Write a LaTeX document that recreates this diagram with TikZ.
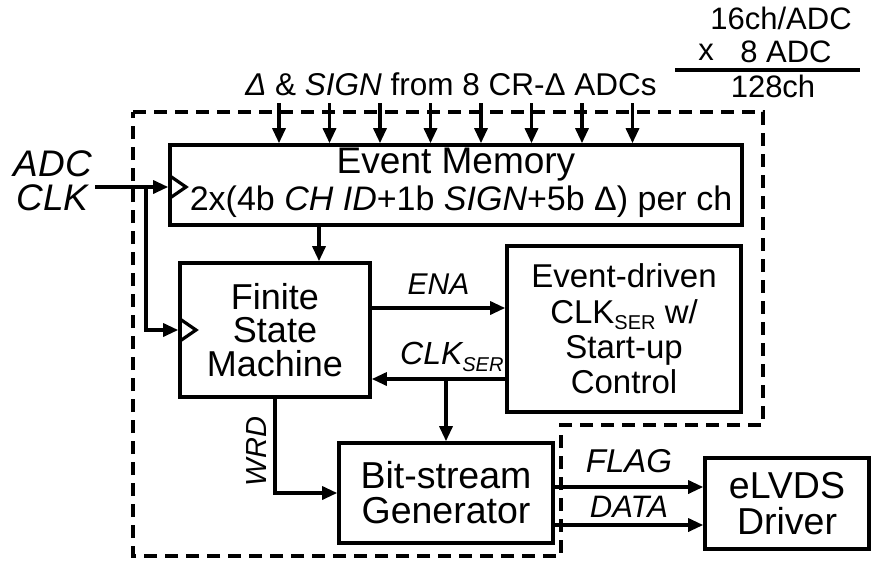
\documentclass[tikz,border=0pt]{standalone}
\usepackage{fontspec}
\setmainfont{Liberation Sans}
\usetikzlibrary{arrows.meta}

\newcommand{\boxfont}{\fontsize{36}{33.5}\selectfont}
\newcommand{\lowidx}[1]{\raisebox{-0.2em}{\fontsize{20}{20}\selectfont #1}}

\begin{document}
\begin{tikzpicture}[x=1pt,y=-1pt,
blocknode/.style={rectangle, draw=black, line width=3.6pt, align=center, inner sep=0pt, font=\boxfont},
textnode/.style={inner sep=0pt, align=center, font=\boxfont},
labelnode/.style={inner sep=0pt, font=\fontsize{31}{32}\selectfont},
sig/.style={line width=3.2pt, -{Triangle[length=15pt,width=13pt]}},
wire/.style={line width=3.2pt},
boundary/.style={line width=3.2pt, dash pattern=on 13pt off 8pt}
]
\useasboundingbox (0,0) rectangle (872,563);

%Nodes
\node[blocknode, minimum width=572pt, minimum height=80pt] (mem) at (456,185) {};
\node[textnode, font=\fontsize{37}{35}\selectfont] (memname) at (456,165) {Event Memory};
\node[textnode, font=\fontsize{34}{35}\selectfont] (memword) at (461,202) {2x(4b \textit{CH ID}+1b \textit{SIGN}+5b Δ) per ch};
\node[blocknode, minimum width=190pt, minimum height=134pt] (fsm) at (275,330) {Finite\\State\\Machine};
\node[blocknode, minimum width=234pt, minimum height=166pt, font=\fontsize{33}{35.3}\selectfont] (ctl) at (624,329) {Event-driven\\CLK\lowidx{SER} w/\\Start-up\\Control};
\node[blocknode, minimum width=214pt, minimum height=100pt, font=\fontsize{37.5}{35}\selectfont] (bsg) at (446,493) {Bit-stream\\Generator};
\node[blocknode, minimum width=164pt, minimum height=91pt, font=\fontsize{37.5}{36}\selectfont] (drv) at (787,503.5) {eLVDS\\Driver};

\node[textnode, font=\fontsize{37}{34}\selectfont] (adcclk) at (53,181) {\textit{ADC}\\\textit{CLK}};
\node[textnode, font=\fontsize{31.5}{33}\selectfont] (source) at (451,84) {\textit{Δ} \& \textit{SIGN} from 8 CR-Δ ADCs};
\node[textnode, font=\fontsize{31}{30}\selectfont] (perdev) at (781,18) {16ch/ADC};
\node[textnode, font=\fontsize{31}{30}\selectfont] (times) at (706,52) {x};
\node[textnode, font=\fontsize{31}{30}\selectfont] (numdev) at (786,52) {8 ADC};
\node[textnode, font=\fontsize{31}{30}\selectfont] (total) at (773,86) {128ch};
\draw[wire] (675,70) -- (860,70);

%Boundary
\draw[boundary] (133,112) -- (763,112) -- (763,425) -- (561,425) -- (561,556) -- (133,556) -- cycle;

%Lines
\foreach \i in {0,...,7}{
  \coordinate (in\i) at (279+50.5*\i,103);
  \draw[sig] (in\i) -- (in\i |- mem.north);
}

\coordinate (clkin) at (95,187);
\coordinate (tap) at (146,187);
\draw[sig] (clkin) -- (mem.west |- clkin);
\draw[sig] (tap) |- (fsm.west);
\draw[wire, line join=miter] (170,176) -- (186,187) -- (170,198);
\draw[wire, line join=miter] (180,319) -- (196,330) -- (180,341);

\draw[sig] ([xshift=44pt]fsm.north |- mem.south) -- ([xshift=44pt]fsm.north);

\draw[sig] ([yshift=22pt]fsm.east) -- ([yshift=22pt]fsm.east -| ctl.west)
  node[midway, above=12pt, labelnode, font=\fontsize{30}{31}\selectfont] (ena) {\textit{ENA}};
\coordinate (clkser) at ([yshift=-49pt]fsm.east);
\draw[sig] (clkser -| ctl.west) -- (clkser)
  node[pos=0.4, above=6pt, labelnode, font=\fontsize{32}{33}\selectfont] (serlabel) {\textit{CLK\lowidx{SER}}};
\draw[sig] (bsg.north |- clkser) -- (bsg.north);

\draw[sig] (fsm.south) |- (bsg.west)
  node[pos=0.28, rotate=90, anchor=south, yshift=7pt, labelnode, font=\fontsize{29}{30}\selectfont] (wrd) {\textit{WRD}};

\draw[sig] ([yshift=6pt]bsg.east) -- ([yshift=6pt]bsg.east -| drv.west)
  node[midway, above=13pt, labelnode, font=\fontsize{33}{34}\selectfont] (flag) {\textit{FLAG}};
\draw[sig] ([yshift=-32pt]bsg.east) -- ([yshift=-32pt]bsg.east -| drv.west)
  node[midway, above=6pt, labelnode] (data) {\textit{DATA}};

\end{tikzpicture}
\end{document}
